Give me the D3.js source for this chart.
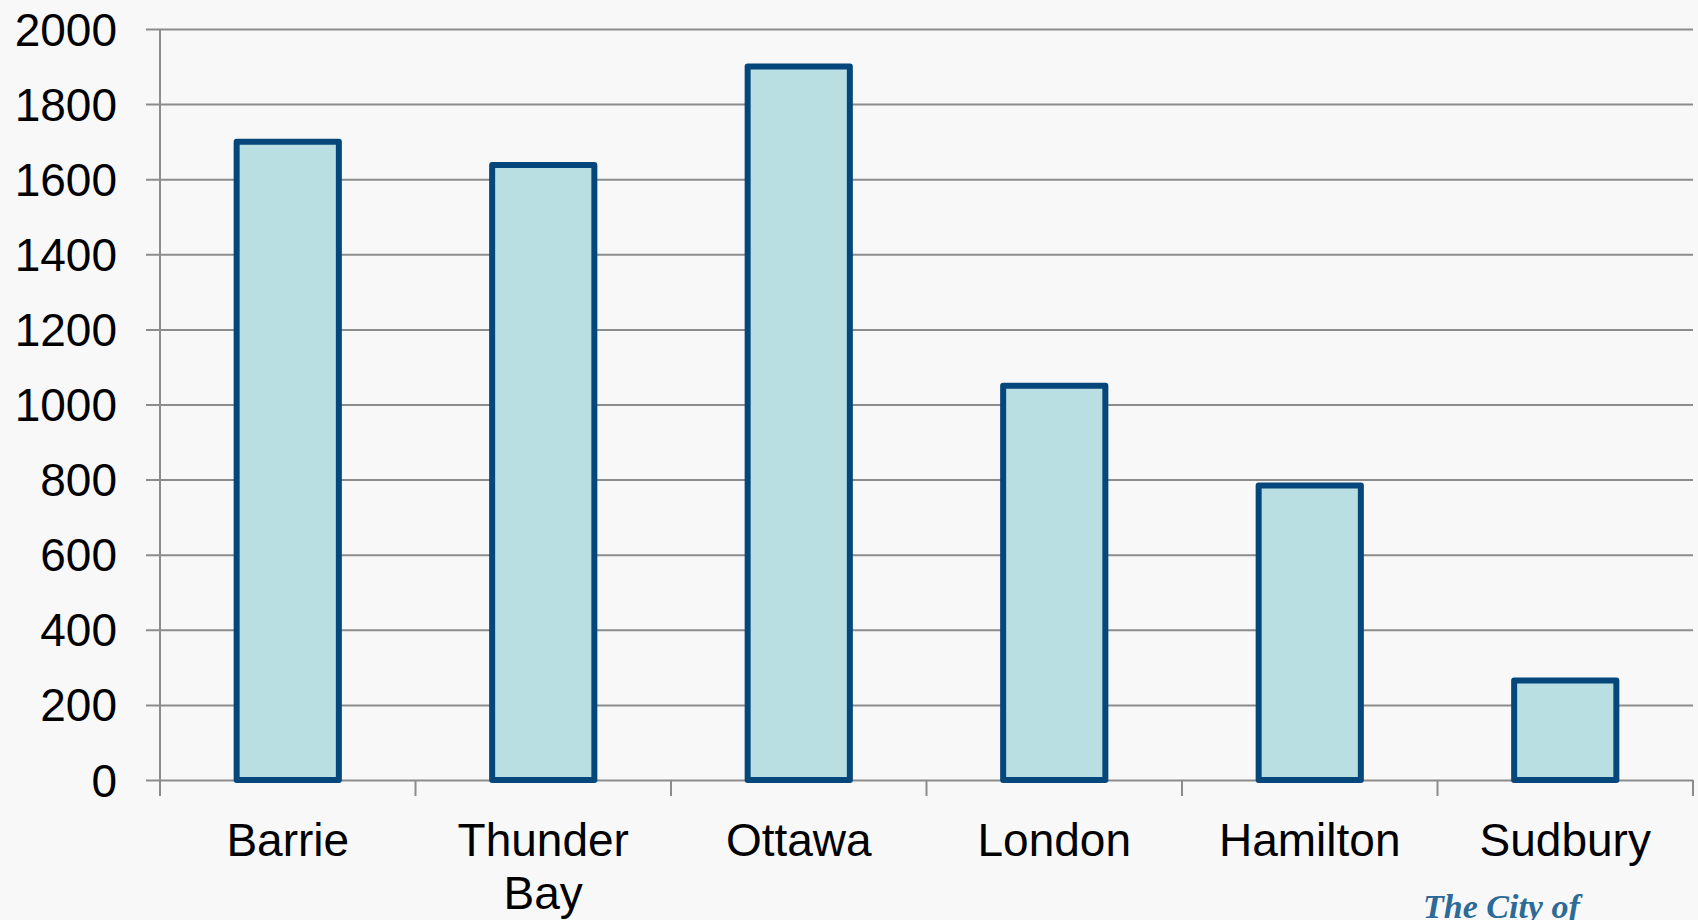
<!DOCTYPE html>
<html>
<head>
<meta charset="utf-8">
<script src="https://cdn.jsdelivr.net/npm/d3@7"></script>
<style>
  html, body { margin: 0; padding: 0; background: #f8f8f8; }
  svg { display: block; }
</style>
</head>
<body>
<svg id="chart" width="1698" height="920"></svg>
<script>
const categories = ["Barrie", "Thunder Bay", "Ottawa", "London", "Hamilton", "Sudbury"];
const values = [1700, 1638, 1900, 1050, 784, 265];
const yTicks = [0, 200, 400, 600, 800, 1000, 1200, 1400, 1600, 1800, 2000];

(function () {
const svg = d3.select("#chart");
svg.append("rect").attr("width", 1698).attr("height", 920).attr("fill", "#f8f8f8");

const mLeft = 160, mRight = 1693, mTop = 29, mBottom = 780;

const x = d3.scaleBand().domain(categories).range([mLeft, mRight]).paddingInner(0.6).paddingOuter(0.3);
const xEdge = d3.scaleBand().domain(categories).range([mLeft, mRight]).padding(0);
const y = d3.scaleLinear().domain([0, 2000]).range([mBottom, mTop]);

const grid = "#8c8c8c";

// gridlines with left tick
const gy = svg.append("g").attr("transform", `translate(${mLeft - 14},0)`);
gy.call(d3.axisRight(y).tickValues(yTicks).tickSize(mRight - mLeft + 14).tickFormat(""));
gy.select(".domain").remove();
gy.selectAll(".tick line").attr("stroke", grid).attr("stroke-width", 2);

// y labels
svg.append("g").selectAll("text").data(yTicks).join("text")
  .attr("x", 117).attr("y", d => y(d))
  .attr("dy", "0.36em")
  .attr("text-anchor", "end")
  .attr("font-family", "'Liberation Sans', Arial, sans-serif")
  .attr("font-size", 46)
  .attr("fill", "#000")
  .text(d => d);

// y axis line
svg.append("line").attr("x1", mLeft).attr("x2", mLeft).attr("y1", mTop).attr("y2", mBottom + 16)
  .attr("stroke", grid).attr("stroke-width", 2);

// category ticks
const catEdges = categories.map(c => xEdge(c) + xEdge.bandwidth());
svg.append("g").selectAll("line").data(catEdges).join("line")
  .attr("x1", d => d).attr("x2", d => d).attr("y1", mBottom).attr("y2", mBottom + 16)
  .attr("stroke", grid).attr("stroke-width", 2);

// bars
svg.append("g").selectAll("rect").data(values).join("rect")
  .attr("x", (d, i) => x(categories[i]))
  .attr("y", d => y(d))
  .attr("width", x.bandwidth())
  .attr("height", d => mBottom - y(d))
  .attr("fill", "#b9dfe2")
  .attr("stroke", "#05477a")
  .attr("stroke-width", 6)
  .attr("stroke-linejoin", "round");

// category labels
const lab = svg.append("g");
categories.forEach(c => {
  const cx = xEdge(c) + xEdge.bandwidth() / 2;
  const words = c === "Thunder Bay" ? ["Thunder", "Bay"] : [c];
  const t = lab.append("text")
    .attr("x", cx).attr("y", 856)
    .attr("text-anchor", "middle")
    .attr("font-family", "'Liberation Sans', Arial, sans-serif")
    .attr("font-size", 46)
    .attr("fill", "#000");
  words.forEach((w, i) => {
    t.append("tspan").attr("x", cx).attr("dy", i === 0 ? 0 : 53).text(w);
  });
});

// logo text partially visible
svg.append("text")
  .attr("x", 1423).attr("y", 918)
  .attr("font-family", "'Liberation Serif', 'DejaVu Serif', serif")
  .attr("font-weight", "bold").attr("font-style", "italic")
  .attr("font-size", 34)
  .attr("fill", "#2c6a98")
  .text("The City of");
})();
</script>
</body>
</html>
